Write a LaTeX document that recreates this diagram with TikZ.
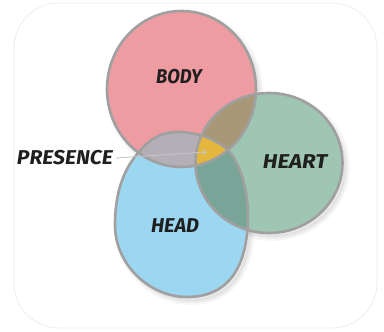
\documentclass[tikz,border=0pt]{standalone}
\usepackage{fontspec}
\setsansfont{Fira Sans}
\usetikzlibrary{arrows.meta}
\definecolor{bodyc}{HTML}{EE9BA2}
\definecolor{heartc}{HTML}{9FC6B3}
\definecolor{headc}{HTML}{9CD7F2}
\definecolor{bhc}{HTML}{A89878}
\definecolor{bdc}{HTML}{B4AEB6}
\definecolor{hhc}{HTML}{78A597}
\definecolor{allc}{HTML}{E5B63C}
\definecolor{edgec}{HTML}{A0A0A0}
\tikzset{
  x=1pt,y=-1pt,
  lbl/.style={font=\sffamily\bfseries\itshape\fontsize{20}{20}\selectfont, text=black!88, inner sep=0pt},
  rim/.style={draw=edgec, line width=2.6pt},
}
\newcommand{\bodyP}{(181.5,89) ellipse [x radius=74.5pt, y radius=78pt]}
\newcommand{\heartP}{(269,163) ellipse [x radius=73.5pt, y radius=70pt]}
\newcommand{\headP}{(178,132) .. controls (200,132) and (218,141) .. (228,150)
  .. controls (240,163) and (248,190) .. (248,215)
  .. controls (248,265) and (230,297) .. (187,297)
  .. controls (150,297) and (115,265) .. (115,225)
  .. controls (115,190) and (125,168) .. (138,153)
  .. controls (150,139) and (160,132) .. (178,132) -- cycle}
\newcommand{\shadowOf}[1]{%
  \begin{scope}[shift={(3.5,4)}]
    \fill[black, opacity=0.05] #1;
    \draw[black, opacity=0.04, line width=4pt] #1;
    \draw[black, opacity=0.03, line width=8pt] #1;
  \end{scope}}
\begin{document}
\begin{tikzpicture}
\useasboundingbox (0,0) rectangle (384,332);
% faint card
\draw[gray!15, line width=0.8pt, rounded corners=45pt] (14,3) rectangle (377,328);
% shadows
\shadowOf{\bodyP}
\shadowOf{\heartP}
\shadowOf{\headP}
% base fills
\fill[bodyc] \bodyP;
\fill[heartc] \heartP;
\fill[headc] \headP;
% overlaps
\begin{scope}\clip \bodyP; \fill[bhc] \heartP; \end{scope}
\begin{scope}\clip \bodyP; \fill[bdc] \headP; \end{scope}
\begin{scope}\clip \heartP; \fill[hhc] \headP; \end{scope}
\begin{scope}\clip \bodyP; \clip \heartP; \fill[allc] \headP; \end{scope}
% outlines
\draw[rim] \bodyP;
\draw[rim] \heartP;
\draw[rim] \headP;
% labels
\node[lbl] (body) at (179,77) {\scalebox{0.92}[1]{BODY}};
\node[lbl] (heart) at (295,162) {\scalebox{1.12}[1]{HEART}};
\node[lbl] (head) at (175,226) {HEAD};
\node[lbl, anchor=east] (presence) at (113,158) {\scalebox{1.06}[1]{PRESENCE}};
\coordinate (center) at (207,152);
\draw[black!22, line width=0.9pt, -{Straight Barb[length=3.5pt,width=7pt]}] ([xshift=3pt]presence.east) -- (center);
\end{tikzpicture}
\end{document}
